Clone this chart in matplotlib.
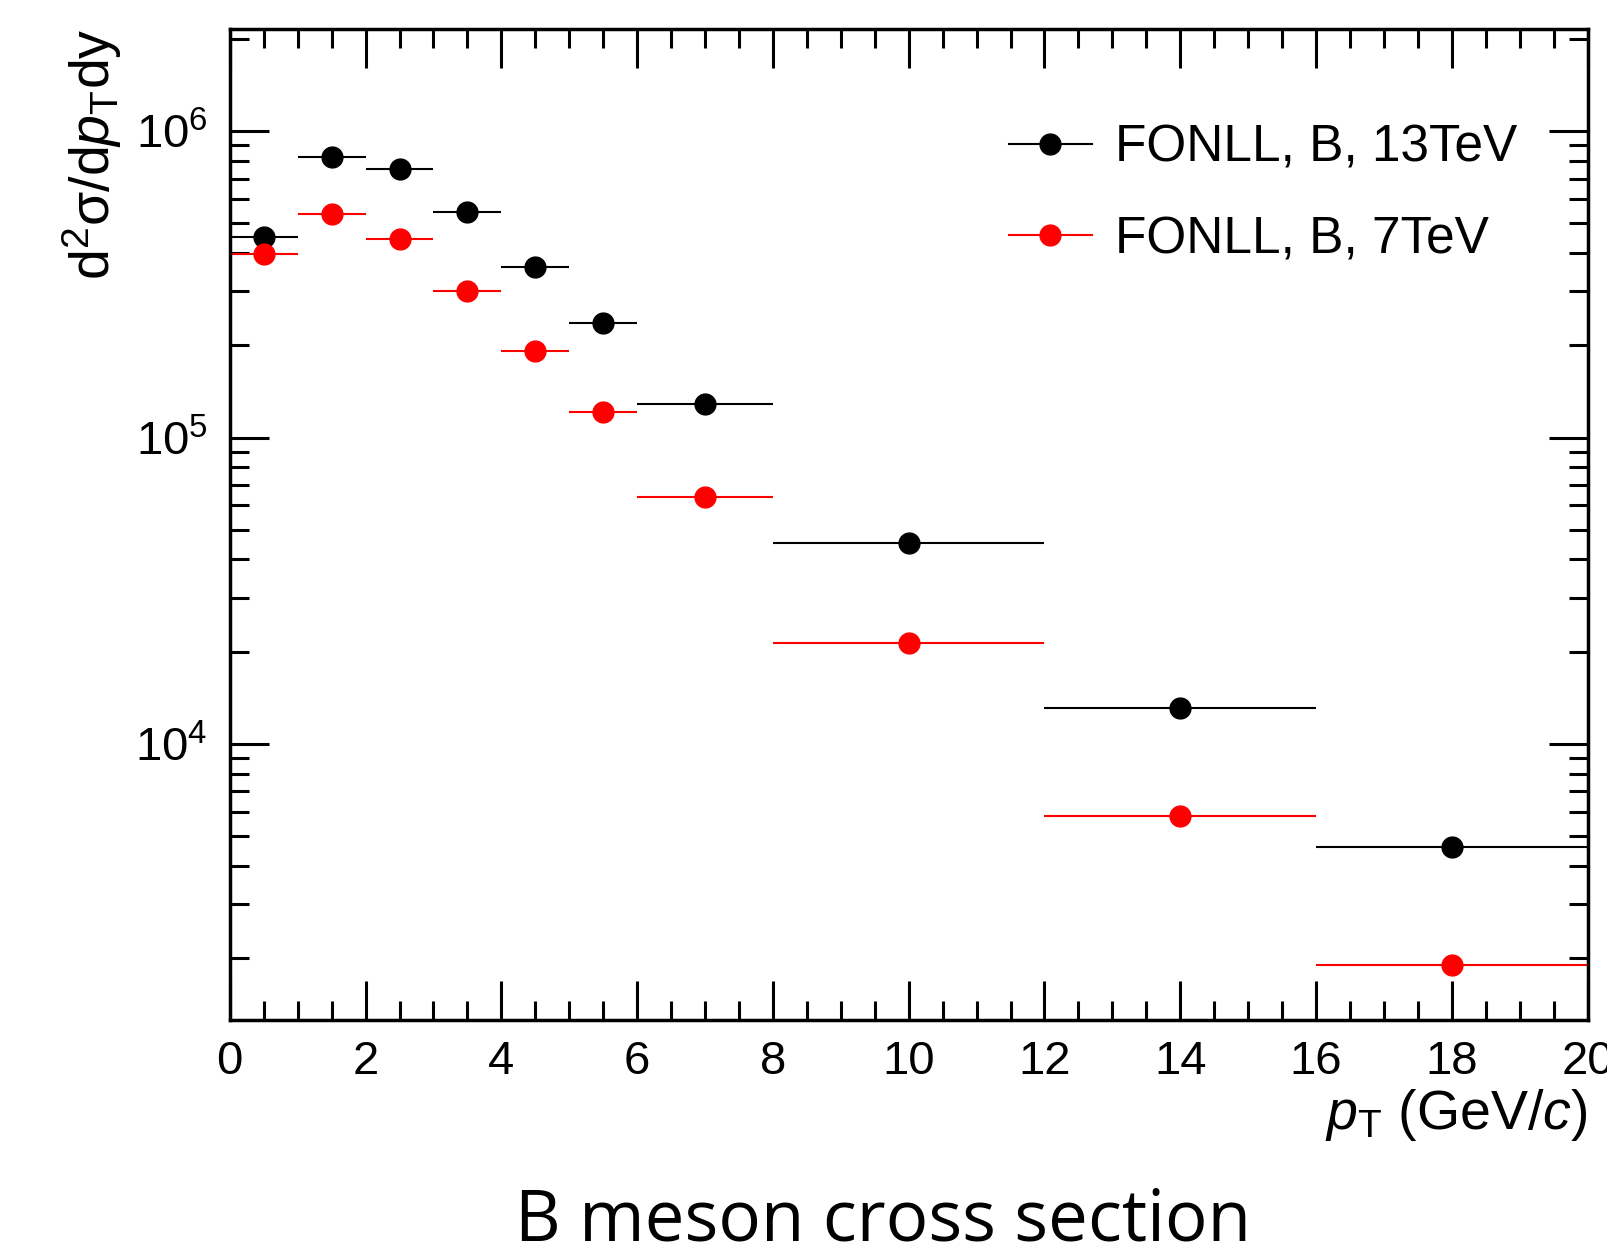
#!/usr/bin/python3

# B meson cross section, FONLL at 13 and 7 TeV (ROOT-like look)

import numpy as np
import matplotlib
matplotlib.use('Agg')
import matplotlib.pyplot as plt
from matplotlib.lines import Line2D
from matplotlib.ticker import LogLocator, MultipleLocator, NullFormatter

plt.rcParams['font.family'] = ['Liberation Sans', 'DejaVu Sans']
plt.rcParams['mathtext.fontset'] = 'custom'
plt.rcParams['mathtext.rm'] = 'Liberation Sans'
plt.rcParams['mathtext.it'] = 'Liberation Sans:italic'

# bin edges in pT (GeV/c)
bin_lo = [0, 1, 2, 3, 4, 5, 6, 8, 12, 16]
bin_hi = [1, 2, 3, 4, 5, 6, 8, 12, 16, 20]
pt_centre = [0.5, 1.5, 2.5, 3.5, 4.5, 5.5, 7, 10, 14, 18]

# d2sigma/dpT dy
xsec_13tev = [4.52e5, 8.25e5, 7.52e5, 5.44e5, 3.61e5, 2.36e5, 1.29e5, 4.52e4, 1.31e4, 4.62e3]
xsec_7tev = [3.96e5, 5.35e5, 4.45e5, 3.00e5, 1.92e5, 1.21e5, 6.4e4, 2.14e4, 5.83e3, 1.89e3]

x = np.array(pt_centre)
xerr = np.array([x - np.array(bin_lo), np.array(bin_hi) - x])

fig = plt.figure(figsize=(16.08, 12.51), dpi=100)
ax = fig.add_axes([0.1429, 0.1843, 0.8444, 0.7927])

ax.errorbar(x, xsec_13tev, xerr=xerr, fmt='o', color='black', ms=15,
            elinewidth=1.5, capsize=0)
ax.errorbar(x, xsec_7tev, xerr=xerr, fmt='o', color='red', ms=15,
            elinewidth=1.5, capsize=0)

ax.set_yscale('log')
ax.set_xlim(0, 20)
ax.set_ylim(1.25e3, 2.16e6)

# ticks inside, on all sides
ax.xaxis.set_major_locator(MultipleLocator(2))
ax.xaxis.set_minor_locator(MultipleLocator(0.5))
ax.yaxis.set_major_locator(LogLocator(base=10, numticks=10))
ax.yaxis.set_minor_locator(LogLocator(base=10, subs=np.arange(2, 10), numticks=20))
ax.yaxis.set_minor_formatter(NullFormatter())
ax.tick_params(which='both', direction='in', top=True, right=True, width=2.2)
ax.tick_params(which='major', length=28, labelsize=34)
ax.tick_params(which='minor', length=14)
ax.tick_params(axis='x', which='major', pad=14)
ax.tick_params(axis='y', which='major', pad=16)
for sp in ax.spines.values():
    sp.set_linewidth(2.5)

ax.set_xlabel(r'$p_{\mathrm{T}}$ (GeV/$c$)', fontsize=40, loc='right', labelpad=2)
ax.set_ylabel(r'd$^{2}$σ/d$p_{\mathrm{T}}$dy', fontsize=40, loc='top', labelpad=8)

# legend handles: marker with a short horizontal line
handles = [Line2D([], [], color='black', marker='o', ms=15, lw=1.5),
           Line2D([], [], color='red', marker='o', ms=15, lw=1.5)]
labels = ['FONLL, B, 13TeV', 'FONLL, B, 7TeV']
ax.legend(handles, labels, loc='upper right', bbox_to_anchor=(0.982, 0.951),
          frameon=False, fontsize=37, handlelength=1.6, handletextpad=0.45,
          labelspacing=0.83)

fig.text(0.549, 0.008, 'B meson cross section', fontsize=51, family='Open Sans',
         ha='center', va='baseline')

fig.savefig('out.png', dpi=100)
